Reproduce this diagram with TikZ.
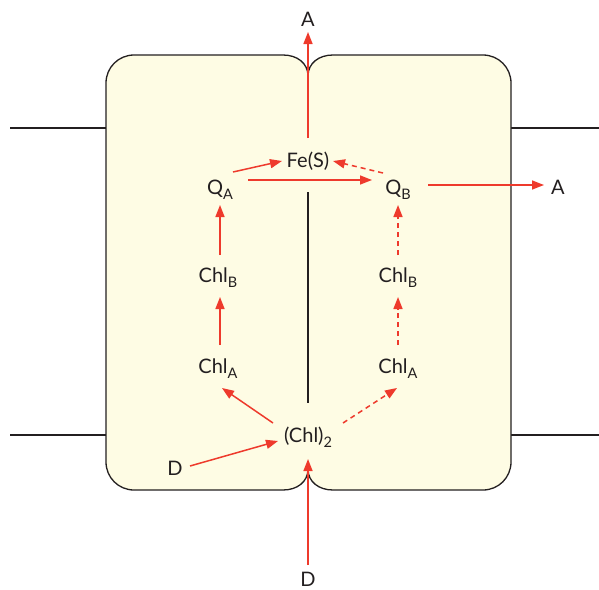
\documentclass[tikz,border=0pt]{standalone}
\usepackage{fontspec}
\setmainfont{Lato}
\usetikzlibrary{arrows.meta,calc}
\definecolor{redc}{HTML}{EE3A2C}
\definecolor{boxc}{HTML}{FEFCE4}
\definecolor{inkc}{HTML}{231F20}
\newcommand\lsub[1]{\raisebox{-5.5pt}{\fontsize{14.5}{14.5}\selectfont #1}}
\begin{document}
\begin{tikzpicture}[x=1pt,y=-1pt,
  lbl/.style={font=\fontsize{20}{22}\selectfont, inner sep=0pt, text=inkc, anchor=base},
  ra/.style={draw=redc, line width=1.5pt, -{Triangle[length=12pt,width=9pt]}},
  rdash/.style={ra, dash pattern=on 5pt off 4pt},
  blk/.style={draw=inkc, line width=1.3pt}]
\useasboundingbox (0,0) rectangle (599,589);
% membrane lines
\draw[blk] (10,128) -- (106,128);
\draw[blk] (10,435) -- (106,435);
\draw[blk] (511,128) -- (599,128);
\draw[blk] (511,435) -- (599,435);
% outline
\path[blk, fill=boxc] (106,83) .. controls (106,67.5) and (118.5,55) .. (134,55)
  -- (283,55) .. controls (297,55) and (308,63) .. (308,76)
  .. controls (308,63) and (319,55) .. (333,55)
  -- (483,55) .. controls (498.5,55) and (511,67.5) .. (511,83)
  -- (511,462) .. controls (511,477.5) and (498.5,490) .. (483,490)
  -- (333,490) .. controls (319,490) and (308,482) .. (308,469)
  .. controls (308,482) and (297,490) .. (283,490)
  -- (134,490) .. controls (118.5,490) and (106,477.5) .. (106,462) -- cycle;
\coordinate (m1) at (308,192);
\coordinate (m2) at (308,403);
\draw[blk] (m1) -- (m2);
% labels
\node[lbl] (At) at (308,26) {A};
\node[lbl] (Fe) at (308,167) {Fe(S)};
\node[lbl] (QA) at (220,194) {Q\lsub{A}};
\node[lbl] (QB) at (398,194) {Q\lsub{B}};
\node[lbl] (Ar) at (558,194) {A};
\node[lbl] (CBL) at (218,282) {Chl\lsub{B}};
\node[lbl] (CAL) at (218,373) {Chl\lsub{A}};
\node[lbl] (CBR) at (398,282) {Chl\lsub{B}};
\node[lbl] (CAR) at (398,373) {Chl\lsub{A}};
\node[lbl] (C2) at (308,442) {(Chl)\lsub{2}};
\node[lbl] (Dl) at (175,475) {D};
\node[lbl] (Db) at (308,586) {D};
% arrows
\draw[ra] ($(Fe.base)+(0,-29)$) -- ($(At.base)+(0,6)$);
\draw[ra] ($(QA.base)+(13,-22)$) -- ($(Fe.base)+(-26,-6)$);
\draw[ra] ($(QA.base)+(28,-14)$) -- ($(QB.base)+(-26,-14)$);
\draw[rdash] ($(QB.base)+(-15,-21)$) -- ($(Fe.base)+(25,-6)$);
\draw[ra] ($(QB.base)+(30,-9)$) -- ($(Ar.base)+(-14,-9)$);
\draw[ra] ($(CBL.base)+(2,-27)$) -- ($(QA.base)+(0,11)$);
\draw[ra] ($(CAL.base)+(2,-28)$) -- ($(CBL.base)+(2,15)$);
\draw[rdash] ($(CBR.base)+(0,-27)$) -- ($(QB.base)+(0,11)$);
\draw[rdash] ($(CAR.base)+(0,-28)$) -- ($(CBR.base)+(0,15)$);
\draw[ra] ($(C2.base)+(-35,-19)$) -- ($(CAL.base)+(4,15)$);
\draw[rdash] ($(C2.base)+(35,-19)$) -- ($(CAR.base)+(-1,15)$);
\draw[ra] ($(Dl.base)+(15,-9)$) -- ($(C2.base)+(-30,-1)$);
\draw[ra] ($(Db.base)+(0,-21)$) -- ($(C2.base)+(0,17)$);
\end{tikzpicture}
\end{document}
